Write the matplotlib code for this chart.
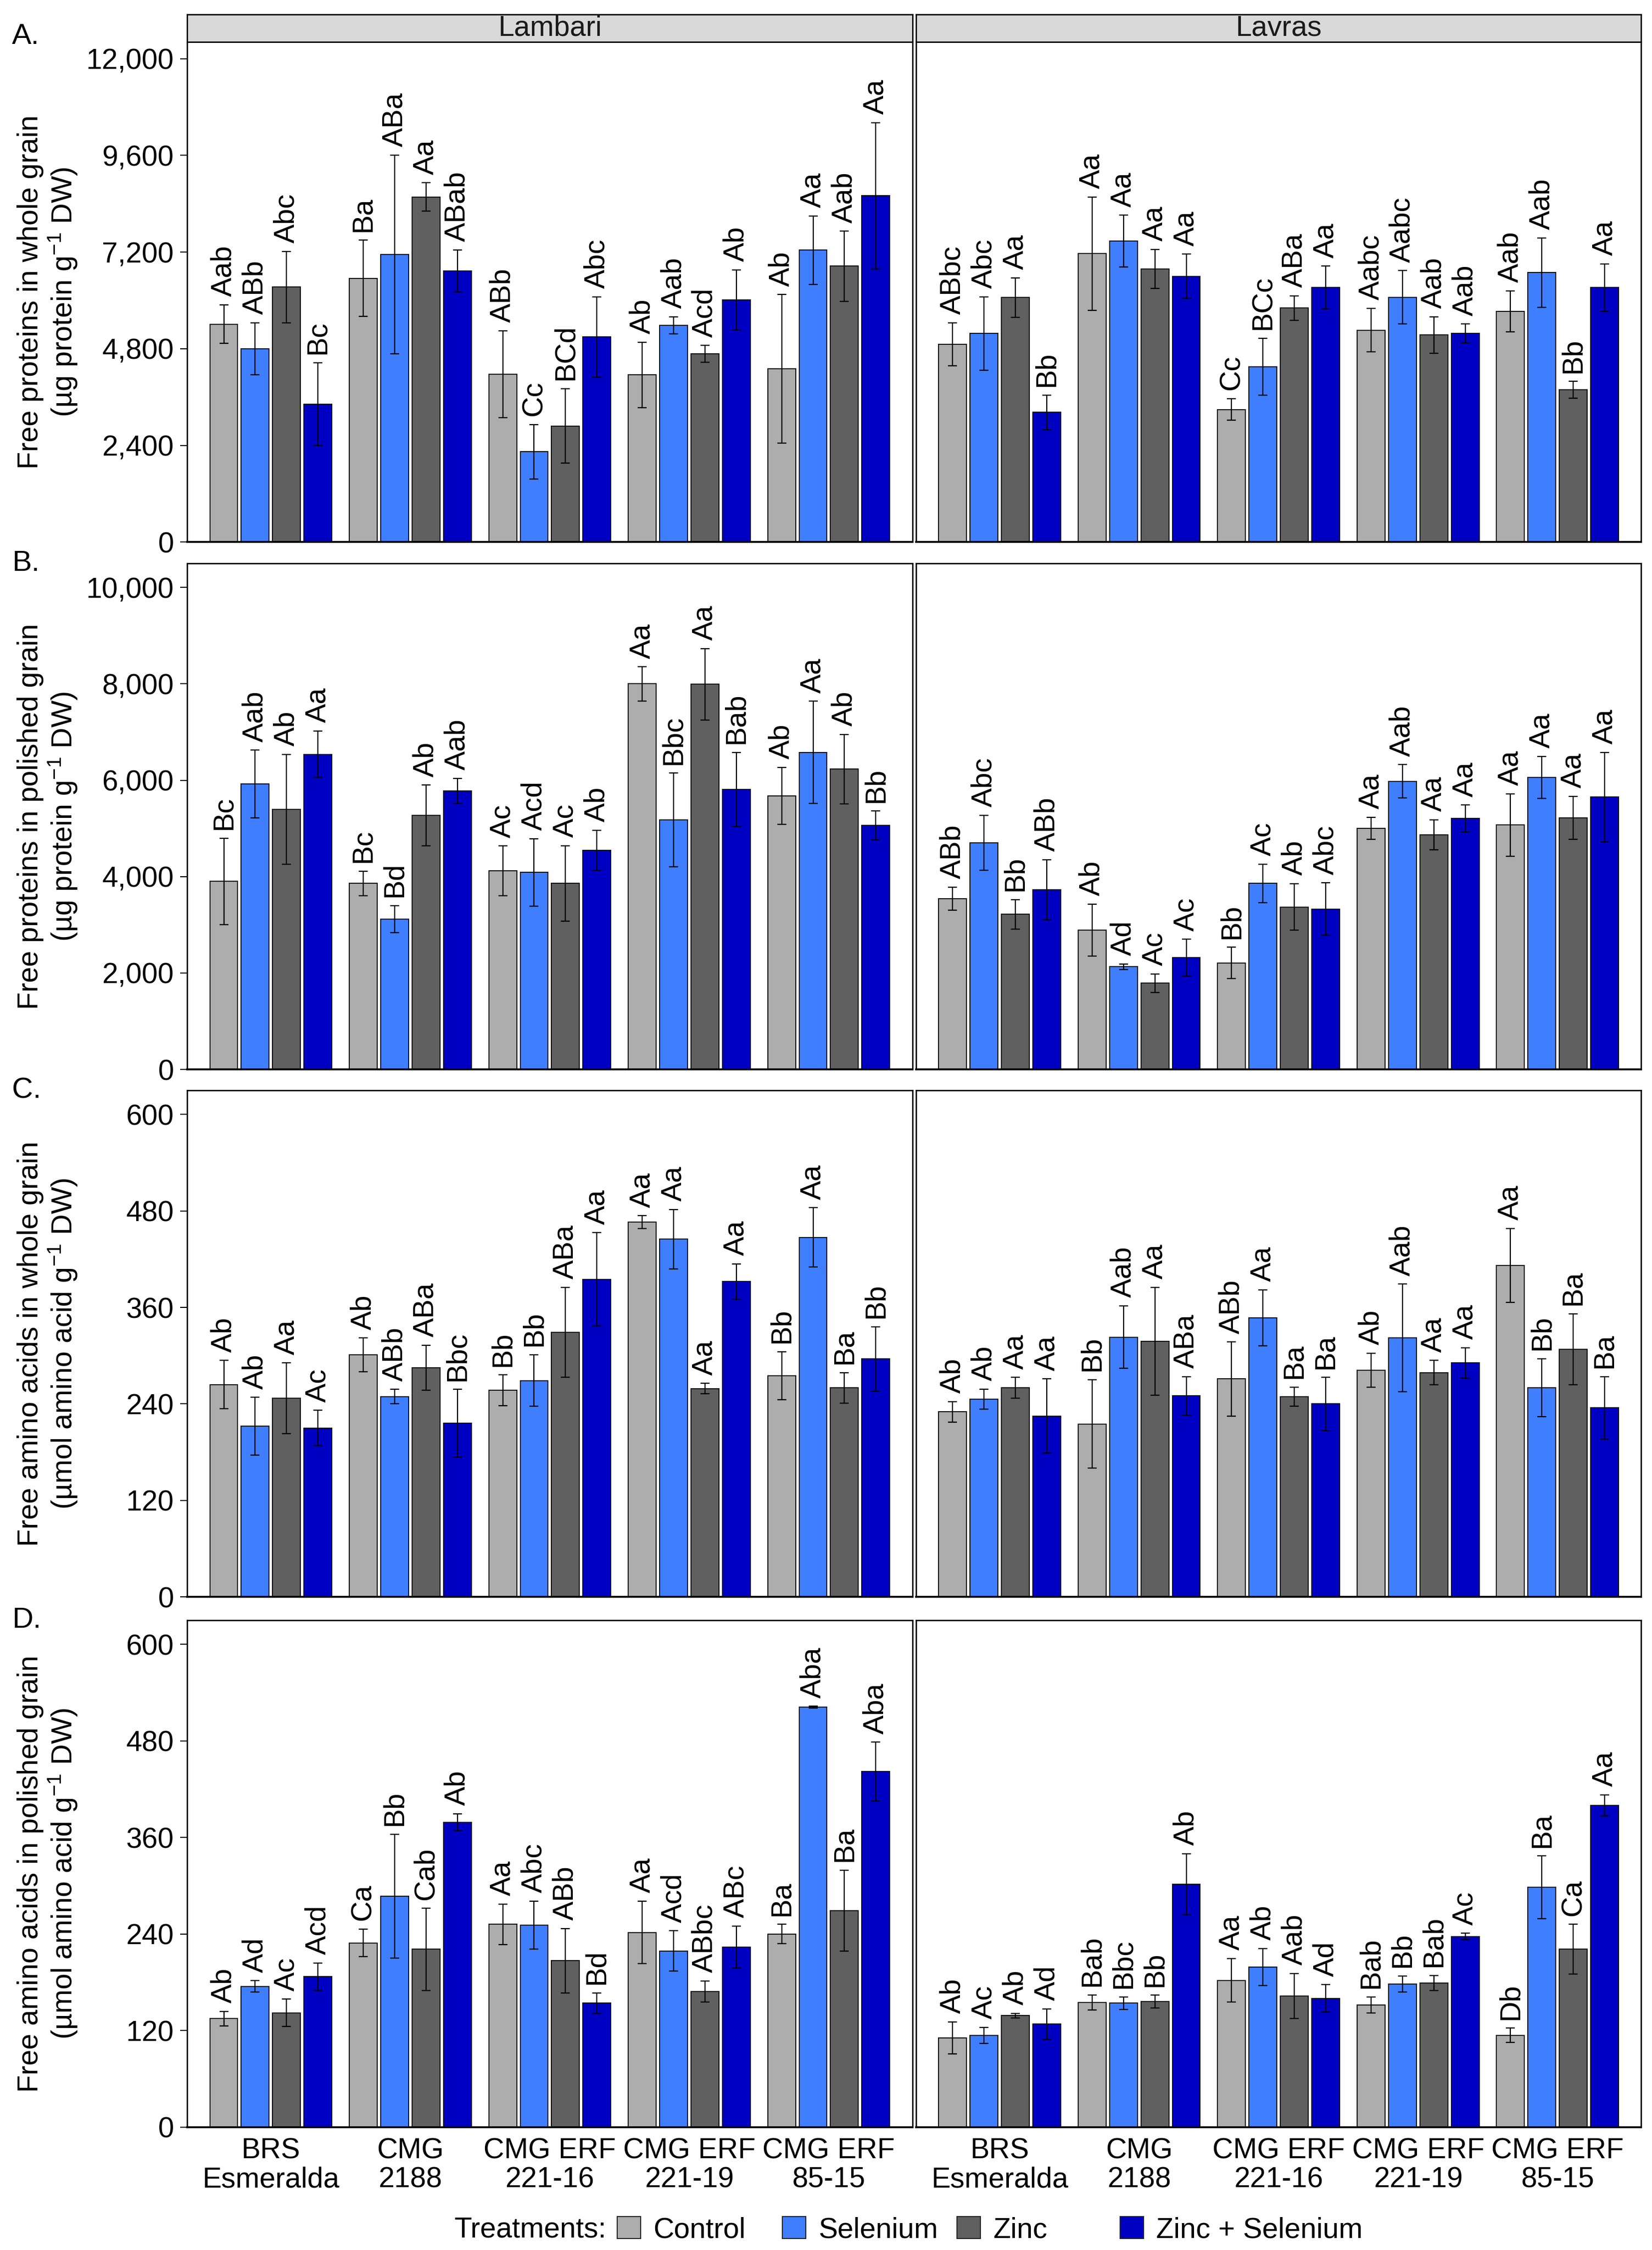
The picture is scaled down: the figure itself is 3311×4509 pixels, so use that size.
import numpy as np
import matplotlib.pyplot as plt
from matplotlib.patches import Patch
from matplotlib.ticker import FuncFormatter

plt.rcParams['font.family'] = ['Liberation Sans', 'DejaVu Sans']
plt.rcParams['mathtext.fontset'] = 'custom'
plt.rcParams['mathtext.rm'] = 'Liberation Sans'
plt.rcParams['mathtext.it'] = 'Liberation Sans:italic'
plt.rcParams['mathtext.bf'] = 'Liberation Sans:bold'

# categories
genotypes = ['BRS\nEsmeralda', 'CMG\n2188', 'CMG ERF\n221-16', 'CMG ERF\n221-19', 'CMG ERF\n85-15']
treatments = ['Control', 'Selenium', 'Zinc', 'Zinc + Selenium']
colors = ['#ADADAD', '#3F7FFF', '#606060', '#0000C2']
sites = ['Lambari', 'Lavras']

# A. free proteins, whole grain (rows = genotype, cols = treatment)
a_lambari_mean = [[5410, 4800, 6330, 3420], [6550, 7140, 8570, 6730], [4170, 2240, 2880, 5090],
                  [4150, 5380, 4670, 6010], [4300, 7250, 6850, 8600]]
a_lambari_err = [[480, 645, 885, 1030], [945, 2465, 350, 520], [1080, 680, 925, 995],
                 [810, 210, 210, 745], [1845, 850, 870, 1815]]
a_lambari_lab = [['Aab', 'ABb', 'Abc', 'Bc'], ['Ba', 'ABa', 'Aa', 'ABab'], ['ABb', 'Cc', 'BCd', 'Abc'],
                 ['Ab', 'Aab', 'Acd', 'Ab'], ['Ab', 'Aa', 'Aab', 'Aa']]
a_lavras_mean = [[4910, 5180, 6070, 3220], [7160, 7470, 6780, 6600], [3290, 4350, 5810, 6320],
                 [5260, 6080, 5140, 5180], [5730, 6690, 3780, 6320]]
a_lavras_err = [[535, 910, 490, 425], [1405, 645, 485, 550], [270, 710, 305, 530],
                [540, 660, 450, 235], [505, 860, 210, 590]]
a_lavras_lab = [['ABbc', 'Abc', 'Aa', 'Bb'], ['Aa', 'Aa', 'Aa', 'Aa'], ['Cc', 'BCc', 'ABa', 'Aa'],
                ['Aabc', 'Aabc', 'Aab', 'Aab'], ['Aab', 'Aab', 'Bb', 'Aa']]

# B. free proteins, polished grain
b_lambari_mean = [[3900, 5920, 5400, 6540], [3860, 3120, 5270, 5780], [4120, 4090, 3860, 4550],
                  [8000, 5180, 7990, 5810], [5680, 6580, 6230, 5060]]
b_lambari_err = [[900, 705, 1140, 480], [255, 280, 630, 260], [515, 700, 785, 415],
                 [355, 970, 745, 765], [590, 1060, 720, 300]]
b_lambari_lab = [['Bc', 'Aab', 'Ab', 'Aa'], ['Bc', 'Bd', 'Ab', 'Aab'], ['Ac', 'Acd', 'Ac', 'Ab'],
                 ['Aa', 'Bbc', 'Aa', 'Bab'], ['Ab', 'Aa', 'Ab', 'Bb']]
b_lavras_mean = [[3540, 4700, 3220, 3730], [2890, 2130, 1790, 2320], [2210, 3860, 3370, 3330],
                 [5000, 5980, 4870, 5210], [5070, 6060, 5220, 5650]]
b_lavras_err = [[240, 570, 305, 625], [540, 60, 190, 380], [325, 400, 485, 540],
                [230, 345, 310, 275], [650, 435, 445, 925]]
b_lavras_lab = [['ABb', 'Abc', 'Bb', 'ABb'], ['Ab', 'Ad', 'Ac', 'Ac'], ['Bb', 'Ac', 'Ab', 'Abc'],
                ['Aa', 'Aab', 'Aa', 'Aa'], ['Aa', 'Aa', 'Aa', 'Aa']]

# C. free amino acids, whole grain
c_lambari_mean = [[264, 212, 247, 210], [301, 249, 285, 216], [257, 269, 329, 395],
                  [466, 445, 259, 392], [275, 447, 260, 296]]
c_lambari_err = [[30, 36, 44, 22], [21, 9, 28, 42], [19, 32, 56, 58],
                 [8, 37, 6.5, 22], [30, 37, 19, 40]]
c_lambari_lab = [['Ab', 'Ab', 'Aa', 'Ac'], ['Ab', 'ABb', 'ABa', 'Bbc'], ['Bb', 'Bb', 'ABa', 'Aa'],
                 ['Aa', 'Aa', 'Aa', 'Aa'], ['Bb', 'Aa', 'Ba', 'Bb']]
c_lavras_mean = [[230, 246, 260, 225], [215, 323, 318, 250], [271, 347, 249, 240],
                 [282, 322, 279, 291], [412, 260, 308, 235]]
c_lavras_err = [[13, 12.5, 13, 46], [55, 39, 67, 24], [46, 35, 12, 33],
                [21, 67, 15, 19], [46, 36, 44, 39]]
c_lavras_lab = [['Ab', 'Ab', 'Aa', 'Aa'], ['Bb', 'Aab', 'Aa', 'ABa'], ['ABb', 'Aa', 'Ba', 'Ba'],
                ['Ab', 'Aab', 'Aa', 'Aa'], ['Aa', 'Bb', 'Ba', 'Ba']]

# D. free amino acids, polished grain
d_lambari_mean = [[135, 175, 142, 187], [229, 287, 221, 379], [252, 251, 207, 154],
                  [242, 219, 168.5, 224], [240, 522, 269, 442]]
d_lambari_err = [[9, 7, 17, 17], [17, 77, 51, 10.5], [25, 30, 40, 13],
                 [39, 25, 13, 26], [12, 1, 50.5, 36.5]]
d_lambari_lab = [['Ab', 'Ad', 'Ac', 'Acd'], ['Ca', 'Bb', 'Cab', 'Ab'], ['Aa', 'Abc', 'ABb', 'Bd'],
                 ['Aa', 'Acd', 'ABbc', 'ABc'], ['Ba', 'Aba', 'Ba', 'Aba']]
d_lavras_mean = [[111, 114, 138.5, 128], [155, 154, 156, 302], [182.5, 199, 163, 160],
                 [152, 178, 179, 237], [114, 298, 221, 400]]
d_lavras_err = [[20, 10, 3, 19], [9.5, 8, 8, 38], [27, 23, 28, 17],
                [10, 10, 9.5, 4], [9, 39, 31, 13]]
d_lavras_lab = [['Ab', 'Ac', 'Ab', 'Ad'], ['Bab', 'Bbc', 'Bb', 'Ab'], ['Aa', 'Ab', 'Aab', 'Ad'],
                ['Bab', 'Bb', 'Bab', 'Ac'], ['Db', 'Ba', 'Ca', 'Aa']]

panels = [
    ('A.', 'Free proteins in whole grain\n(µg protein g$^{-1}$ DW)',
     [(a_lambari_mean, a_lambari_err, a_lambari_lab), (a_lavras_mean, a_lavras_err, a_lavras_lab)],
     12420, [0, 2400, 4800, 7200, 9600, 12000]),
    ('B.', 'Free proteins in polished grain\n(µg protein g$^{-1}$ DW)',
     [(b_lambari_mean, b_lambari_err, b_lambari_lab), (b_lavras_mean, b_lavras_err, b_lavras_lab)],
     10500, [0, 2000, 4000, 6000, 8000, 10000]),
    ('C.', 'Free amino acids in whole grain\n(µmol amino acid g$^{-1}$ DW)',
     [(c_lambari_mean, c_lambari_err, c_lambari_lab), (c_lavras_mean, c_lavras_err, c_lavras_lab)],
     630, [0, 120, 240, 360, 480, 600]),
    ('D.', 'Free amino acids in polished grain\n(µmol amino acid g$^{-1}$ DW)',
     [(d_lambari_mean, d_lambari_err, d_lambari_lab), (d_lavras_mean, d_lavras_err, d_lavras_lab)],
     630, [0, 120, 240, 360, 480, 600]),
]

FS = 13.8
fig = plt.figure(figsize=(3311 / 300, 4509 / 300), dpi=300)

x_left = [0.1133, 0.5545]
pw = 0.4390
bottoms = [0.7591, 0.5247, 0.2903, 0.0546]
heights = [0.2223, 0.2249, 0.2251, 0.2253]

xpos = np.arange(1, len(genotypes) + 1)
offsets = [-0.3375, -0.1125, 0.1125, 0.3375]
bw = 0.2

for r, (letter, ylab, data, ytop, yticks) in enumerate(panels):
    for c in range(2):
        mean, err, lab = data[c]
        mean = np.array(mean)
        err = np.array(err)
        ax = fig.add_axes([x_left[c], bottoms[r], pw, heights[r]])
        for t in range(4):
            xs = xpos + offsets[t]
            ax.bar(xs, mean[:, t], width=bw, color=colors[t], edgecolor='#111111', linewidth=0.5, zorder=2)
            ax.errorbar(xs, mean[:, t], yerr=err[:, t], fmt='none', ecolor='black',
                        elinewidth=0.55, capsize=2.2, capthick=0.55, zorder=3)
            for g in range(len(genotypes)):
                ax.annotate(lab[g][t], (xs[g], mean[g, t] + err[g, t]), xytext=(0, 4),
                            textcoords='offset points', rotation=90, ha='center', va='bottom',
                            fontsize=FS)
        ax.set_xlim(0.4, 5.6)
        ax.set_ylim(0, ytop)
        ax.set_yticks(yticks)
        ax.yaxis.set_major_formatter(FuncFormatter(lambda v, p: f'{v:,.0f}'))
        ax.set_xticks(xpos)
        if r == 3:
            ax.set_xticklabels(genotypes, fontsize=FS, linespacing=1.1)
        else:
            ax.set_xticklabels([])
        ax.tick_params(axis='x', length=0, pad=5)
        if c == 0:
            ax.tick_params(axis='y', length=3.4, width=0.5, pad=3, labelsize=FS, direction='out')
        else:
            ax.tick_params(axis='y', length=0, labelleft=False)
        for s in ax.spines.values():
            s.set_linewidth(0.65)
            s.set_color('black')
        ax.spines['bottom'].set_linewidth(0.9)

        if r == 0:
            sax = fig.add_axes([x_left[c], bottoms[0] + heights[0], pw, 0.0122])
            sax.set_facecolor('#D9D9D9')
            sax.set_xticks([])
            sax.set_yticks([])
            for s in sax.spines.values():
                s.set_linewidth(0.65)
            sax.text(0.5, 0.5, sites[c], transform=sax.transAxes, ha='center', va='center',
                     fontsize=FS, color='#1A1A1A')

    yc = bottoms[r] + heights[r] / 2
    fig.text(0.029, yc, ylab, rotation=90, ha='center', va='center', multialignment='center',
             fontsize=FS, linespacing=1.1)
    ly = 0.9838 if r == 0 else bottoms[r] + heights[r]
    fig.text(0.0073, ly, letter, ha='left', va='center', fontsize=14)

# legend
leg_y = 0.0089
fig.text(0.3672, leg_y, 'Treatments:', ha='right', va='center', fontsize=FS)
leg_x = [0.3736, 0.4736, 0.5793, 0.6780]
for t in range(4):
    fig.legend(handles=[Patch(facecolor=colors[t], edgecolor='#222222', linewidth=0.5)],
               labels=[treatments[t]], loc='center left', bbox_to_anchor=(leg_x[t], leg_y),
               frameon=False, borderpad=0, borderaxespad=0, handlelength=0.82, handleheight=0.82,
               handletextpad=0.43, fontsize=FS)

fig.savefig('out.png', dpi=300)
